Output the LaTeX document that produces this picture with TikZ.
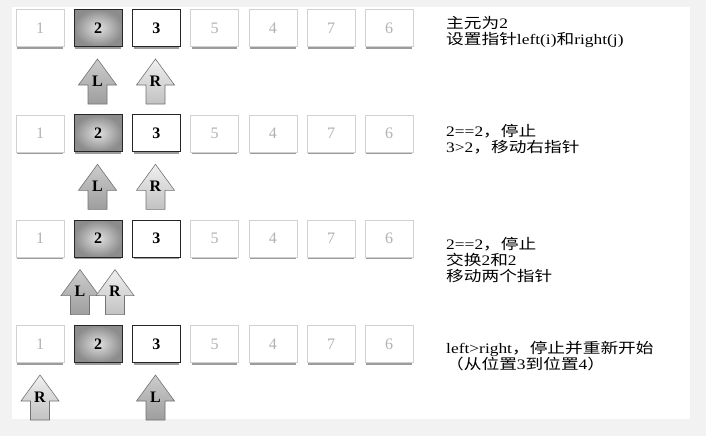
\documentclass[tikz,border=0pt]{standalone}
\usepackage{fontspec}
\setmainfont{Liberation Serif}
\newfontfamily\cjk[FakeStretch=1.22]{Noto Sans CJK SC}
\newfontfamily\notefont[FakeStretch=1.2]{Liberation Serif}
\usetikzlibrary{shadows}
\newcommand{\zh}[1]{{\cjk #1}}
\newcommand{\ptrarrow}[5]{%
  \draw[#5, shift={(#2,#3)}] (0,0) -- (19,26) -- (9.5,26) -- (9.5,45) -- (-9.5,45) -- (-9.5,26) -- (-19,26) -- cycle;
  \node[ptrlabel] (#1) at (#2,#3+22) {#4};}
\tikzset{
  cell/.style={minimum width=48pt, minimum height=37pt, inner sep=0pt,
    drop shadow={shadow xshift=0pt, shadow yshift=-3.4pt, shadow scale=0.95, opacity=0.7, fill=black!55}},
  faded/.style={cell, draw=black!18, line width=0.6pt, fill=white, text=black!30, font=\fontsize{16}{16}\selectfont},
  pivot/.style={cell, draw=black!85, line width=1pt, inner color=black!12, outer color=black!45, font=\bfseries\fontsize{16}{16}\selectfont},
  cur/.style={cell, draw=black!85, line width=1pt, fill=white, font=\bfseries\fontsize{16}{16}\selectfont},
  larr/.style={draw=black!55, line width=0.6pt, top color=black!20, bottom color=black!38},
  rarr/.style={draw=black!55, line width=0.6pt, top color=black!6, bottom color=black!24},
  ptrlabel/.style={inner sep=0pt, font=\bfseries\fontsize{16}{16}\selectfont},
  note/.style={anchor=north west, inner sep=0pt, align=left, font=\notefont\fontsize{14.5}{15.8}\selectfont}
}
\begin{document}
\begin{tikzpicture}[x=1pt,y=-1pt]
\useasboundingbox (0,0) rectangle (706,436);
\fill[black!5] (0,0) rectangle (706,436);
\fill[white] (12,7) rectangle (690,419);
\foreach \r/\yy in {a/28, b/133.3, c/238.6, d/344}{
  \node[faded] (\r1) at (40,\yy) {1};
  \node[pivot] (\r2) at (98.2,\yy) {2};
  \node[cur]   (\r3) at (156.4,\yy) {3};
  \node[faded] (\r5) at (214.6,\yy) {5};
  \node[faded] (\r4) at (272.8,\yy) {4};
  \node[faded] (\r7) at (331,\yy) {7};
  \node[faded] (\r6) at (389.2,\yy) {6};
}
% row 1
\ptrarrow{aL}{97.5}{59}{L}{larr}
\ptrarrow{aR}{155.5}{59}{R}{rarr}
% row 2
\ptrarrow{bL}{97.5}{164.3}{L}{larr}
\ptrarrow{bR}{155.5}{164.3}{R}{rarr}
% row 3
\ptrarrow{cL}{80}{269.6}{L}{larr}
\ptrarrow{cR}{115}{269.6}{R}{rarr}
% row 4
\ptrarrow{dR}{40}{375}{R}{rarr}
\ptrarrow{dL}{155.5}{375}{L}{larr}
% notes
\node[note] (ta) at (446,16) {\zh{主元为}2\\\zh{设置指针}left(i)\zh{和}right(j)};
\node[note] (tb) at (446,124) {2==2\zh{，停止}\\3>2\zh{，移动右指针}};
\node[note] (tc) at (446,237) {2==2\zh{，停止}\\\zh{交换}2\zh{和}2\\\zh{移动两个指针}};
\node[note] (td) at (446,341) {left>right\zh{，停止并重新开始}\\\zh{（从位置}3\zh{到位置}4\zh{）}};
\end{tikzpicture}
\end{document}
